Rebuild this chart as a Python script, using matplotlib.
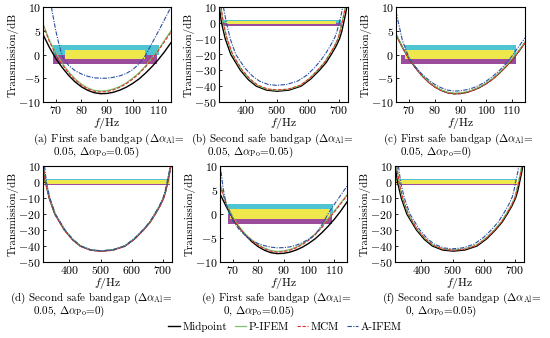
import matplotlib
matplotlib.use("Agg")
import matplotlib.pyplot as plt
from matplotlib.lines import Line2D

plt.rcParams['font.family'] = 'serif'
plt.rcParams['font.serif'] = ['cmr10', 'DejaVu Serif']
plt.rcParams['mathtext.fontset'] = 'cm'
plt.rcParams['axes.formatter.use_mathtext'] = True
plt.rcParams['font.size'] = 8

# ---- first safe bandgap (panels a, c, e) ----
f1 = [65, 67.5, 70, 72.5, 75, 77.5, 80, 82.5, 85, 87.5, 90, 92.5, 95, 97.5,
      100, 102.5, 105, 107.5, 110, 112.5, 115]
mid_1 = [4.2, 1.5, -0.85, -2.75, -4.4, -5.75, -6.8, -7.55, -8.05, -8.25, -8.2,
         -7.95, -7.5, -6.9, -6.1, -5.15, -3.95, -2.6, -1.1, 0.6, 2.5]

a_pifem = [6.5, 3.0, 0.3, -1.85, -3.65, -5.1, -6.25, -7.05, -7.55, -7.7, -7.6,
           -7.25, -6.75, -6.0, -5.0, -3.85, -2.45, -0.85, 1.0, 3.0, 5.0]
a_mcm = [6.2, 2.7, 0.0, -2.1, -3.9, -5.3, -6.45, -7.25, -7.75, -7.9, -7.8,
         -7.45, -6.9, -6.15, -5.2, -4.05, -2.65, -1.05, 0.75, 2.75, 4.7]
a_aifem_f = [67.5, 68.5, 70, 71, 72.5, 75, 77.5, 80, 82.5, 85, 87.5, 90, 92.5,
             95, 97.5, 100, 102.5, 105, 107.5, 110, 112.5, 115]
a_aifem = [13.0, 9.3, 5.0, 2.7, -0.4, -2.3, -3.4, -4.1, -4.6, -4.9, -5.0, -5.0,
           -4.8, -4.5, -4.0, -3.2, -2.0, -0.2, 2.3, 4.8, 7.4, 10.0]

c_pifem = [4.3, 1.6, -0.75, -2.65, -4.3, -5.65, -6.7, -7.45, -7.95, -8.15, -8.1,
           -7.85, -7.4, -6.8, -6.0, -5.05, -3.85, -2.5, -0.95, 0.75, 2.6]
c_mcm = [4.1, 1.45, -0.9, -2.8, -4.45, -5.8, -6.85, -7.6, -8.1, -8.3, -8.25,
         -8.0, -7.55, -6.95, -6.15, -5.2, -4.0, -2.65, -1.15, 0.55, 2.4]
c_aifem = [9.0, 2.9, -0.6, -2.6, -4.1, -5.3, -6.3, -7.0, -7.5, -7.7, -7.65,
           -7.4, -7.0, -6.4, -5.6, -4.6, -3.4, -2.0, -0.3, 1.6, 3.5]

e_pifem = [6.2, 2.2, -0.6, -2.6, -4.2, -5.4, -6.4, -7.1, -7.6, -7.8, -7.7,
           -7.4, -6.9, -6.2, -5.3, -4.1, -2.7, -1.0, 0.6, 2.3, 4.0]
e_mcm = [5.9, 2.0, -0.8, -2.8, -4.35, -5.55, -6.55, -7.25, -7.75, -7.95, -7.85,
         -7.55, -7.05, -6.35, -5.45, -4.3, -2.9, -1.2, 0.4, 2.1, 3.8]
e_aifem_f = [65, 66.25, 67.5, 70, 72.5, 75, 77.5, 80, 82.5, 85, 87.5, 90, 92.5,
             95, 97.5, 100, 102.5, 105, 107.5, 110, 112.5, 115]
e_aifem = [10.5, 5.3, 1.8, -1.4, -3.2, -4.5, -5.5, -6.15, -6.6, -6.9, -7.05,
           -7.0, -6.85, -6.5, -5.95, -5.2, -4.3, -2.4, 0.0, 2.0, 3.9, 5.8]

# ---- second safe bandgap (panels b, d, f) ----
mid_2_f = [316, 323, 335, 353, 384, 410, 435, 468, 502, 540, 579, 610, 638, 660,
           676, 691, 703, 710, 716, 722, 727]
mid_2 = [10, 0, -10, -20, -30, -36, -40, -42.5, -43.2, -42.5, -40, -35.5, -30,
         -25, -20, -15, -10, -5.5, 0, 5.5, 11]

b_pifem_f = [321, 328, 340, 358, 388, 414, 439, 471, 502, 538, 576, 606, 633,
             655, 671, 686, 698, 704, 710, 716, 721]
b_pifem = [10, 0, -10, -20, -29.8, -35.7, -39.6, -42, -42.6, -42, -39.6, -35.2,
           -29.8, -24.8, -19.8, -14.8, -9.8, -5.3, 0, 5, 10]
b_mcm_f = [322, 329, 341, 359, 389, 415, 440, 472, 503, 539, 577, 607, 634,
           656, 672, 687, 699, 705, 711, 717, 722]
b_mcm = [10, 0, -10, -20, -29.6, -35.5, -39.4, -41.8, -42.4, -41.8, -39.4, -35,
         -29.6, -24.6, -19.6, -14.6, -9.6, -5.1, 0, 5, 10]
b_aifem_f = [329, 339, 351, 369, 398, 422, 445, 473, 500, 533, 568, 598, 624,
             645, 661, 676, 688, 695, 702, 708, 713]
b_aifem = [10, 0, -10, -20, -28.5, -33.5, -36.8, -38.9, -39.5, -38.9, -36.8,
           -33, -28, -23, -18.5, -13.5, -9, -5, 0, 5, 10]

d_pifem_f = [317, 324, 336, 354, 385, 411, 436, 469, 502, 539, 578, 609, 637,
             659, 675, 690, 702, 709, 715, 721, 726]
d_pifem = [10, 0, -10, -20, -30, -35.9, -39.9, -42.4, -43.0, -42.4, -39.9,
           -35.4, -30, -25, -20, -15, -10, -5.5, 0, 5.5, 11]
d_mcm = [10, 0, -10.2, -20.2, -30.2, -36.2, -40.2, -42.7, -43.4, -42.7, -40.2,
         -35.7, -30.2, -25.2, -20.2, -15.2, -10.2, -5.7, -0.2, 5.3, 10.8]
d_aifem_f = [320, 326, 337, 355, 386, 412, 437, 469, 502, 538, 577, 608, 636,
             658, 674, 689, 701, 708, 714, 720, 725]
d_aifem = [10, 0, -10, -20, -30, -36, -40, -42.4, -43.0, -42.4, -40, -35.5, -30,
           -25, -20, -15, -10, -5.5, 0, 5.5, 11]

f_pifem_f = [320, 327, 339, 357, 387, 413, 438, 470, 500, 537, 576, 607, 635,
             657, 673, 688, 700, 706, 712, 718, 723]
f_pifem = [10, 0, -10, -20, -29.8, -35.6, -39.5, -41.9, -42.5, -41.9, -39.5,
           -35.1, -29.8, -24.8, -19.8, -14.8, -9.8, -5.3, 0, 5.3, 10.5]
f_mcm_f = [321, 328, 340, 358, 388, 414, 439, 471, 501, 538, 577, 608, 636,
           658, 674, 689, 701, 707, 713, 719, 724]
f_mcm = [10, -0.2, -10.2, -20.2, -30, -35.8, -39.7, -42.1, -42.7, -42.1, -39.7,
         -35.3, -30, -25, -20, -15, -10, -5.5, -0.2, 5.1, 10.3]
f_aifem_f = [326, 333, 345, 363, 393, 418, 442, 472, 498, 532, 569, 600, 627,
             649, 665, 680, 692, 698, 703, 709, 714]
f_aifem = [10, 0, -10, -20, -29.5, -35.2, -38.9, -41.2, -41.8, -41.2, -38.9,
           -34.6, -29.5, -24.5, -19.5, -14.5, -9.5, -5, 0, 5.3, 10.5]

# safe bandgap intervals (Hz): cyan, yellow, purple
bands = {
    'a': [(69.1, 110.4), (73.6, 105.0), (69.1, 109.7)],
    'b': [(325, 709), (339, 692), (325, 706)],
    'c': [(68.3, 111.5), (68.3, 110.6), (67.0, 111.5)],
    'd': [(318, 722), (318, 722), (318, 722)],
    'e': [(68.3, 109.3), (69.0, 108.3), (68.3, 109.0)],
    'f': [(318, 708), (318, 708), (318, 708)],
}
band_levels = [(0, 2), (-1, 1), (-2, 0)]
band_colors = ['#4fc4d2', '#eee84c', '#9b4c9d']

captions = {
    'a': (r'(a) First safe bandgap ($\Delta\alpha_{\rm Al}$=', r'0.05, $\Delta\alpha_{\rm Po}$=0.05)'),
    'b': (r'(b) Second safe bandgap ($\Delta\alpha_{\rm Al}$=', r'0.05, $\Delta\alpha_{\rm Po}$=0.05)'),
    'c': (r'(c) First safe bandgap ($\Delta\alpha_{\rm Al}$=', r'0.05, $\Delta\alpha_{\rm Po}$=0)'),
    'd': (r'(d) Second safe bandgap ($\Delta\alpha_{\rm Al}$=', r'0.05, $\Delta\alpha_{\rm Po}$=0)'),
    'e': (r'(e) First safe bandgap ($\Delta\alpha_{\rm Al}$=', r'0, $\Delta\alpha_{\rm Po}$=0.05)'),
    'f': (r'(f) Second safe bandgap ($\Delta\alpha_{\rm Al}$=', r'0, $\Delta\alpha_{\rm Po}$=0.05)'),
}

W, H = 550, 338
fig = plt.figure(figsize=(5.5, 3.38), dpi=100)

# axes boxes in pixels (left, top, right, bottom), caption x's, caption y's
layout = {
    'a': ((43, 7, 171, 102), (33, 53), (139, 153)),
    'b': ((219, 7, 348, 102), (191, 207), (139, 153)),
    'c': ((396, 7, 525, 102), (383, 400), (139, 153)),
    'd': ((43, 166, 172, 262), (10, 33), (298, 312)),
    'e': ((220, 166, 347, 262), (201, 223), (298, 312)),
    'f': ((395, 166, 524, 262), (382, 405), (298, 312)),
}

lines = {
    'a': [(f1, mid_1), (f1, a_pifem), (f1, a_mcm), (a_aifem_f, a_aifem)],
    'b': [(mid_2_f, mid_2), (b_pifem_f, b_pifem), (b_mcm_f, b_mcm), (b_aifem_f, b_aifem)],
    'c': [(f1, mid_1), (f1, c_pifem), (f1, c_mcm), (f1, c_aifem)],
    'd': [(mid_2_f, mid_2), (d_pifem_f, d_pifem), (mid_2_f, d_mcm), (d_aifem_f, d_aifem)],
    'e': [(f1, mid_1), (f1, e_pifem), (f1, e_mcm), (e_aifem_f, e_aifem)],
    'f': [(mid_2_f, mid_2), (f_pifem_f, f_pifem), (f_mcm_f, f_mcm), (f_aifem_f, f_aifem)],
}

styles = [
    dict(color='black', lw=1.0, ls='-'),
    dict(color='#7cc46e', lw=0.9, ls='-'),
    dict(color='#e0302a', lw=0.8, ls=(0, (3, 1.5))),
    dict(color='#2b4fa0', lw=0.8, ls=(0, (4, 1.2, 1, 1.2))),
]
names = ['Midpoint', 'P-IFEM', 'MCM', 'A-IFEM']

for key in 'abcdef':
    (l, t, r, b), (cx1, cx2), (cy1, cy2) = layout[key]
    ax = fig.add_axes([l / W, 1 - b / H, (r - l) / W, (b - t) / H])
    first = key in 'ace'

    # draw order: cyan, purple, yellow
    for i in (0, 2, 1):
        (x0, x1), (y0, y1) = bands[key][i], band_levels[i]
        ax.fill_between([x0, x1], y0, y1, color=band_colors[i], lw=0)

    for (fx, fy), st in zip(lines[key], styles):
        ax.plot(fx, fy, **st)

    if first:
        ax.set_xlim(65, 115)
        ax.set_ylim(-10, 10)
        ax.set_xticks([70, 80, 90, 100, 110])
        ax.set_yticks([-10, -5, 0, 5, 10])
    else:
        ax.set_xlim(315, 730)
        ax.set_ylim(-50, 10)
        ax.set_xticks([400, 500, 600, 700])
        ax.set_yticks([-50, -40, -30, -20, -10, 0, 10])

    ax.tick_params(direction='in', length=2.5, width=0.6, pad=1.5, labelsize=8.5)
    for sp in ax.spines.values():
        sp.set_linewidth(0.8)
    ax.set_xlabel(r'$f$/Hz', fontsize=8.5, labelpad=0)
    ax.set_ylabel('Transmission/dB', fontsize=8, labelpad=0)

    fig.text(cx1 / W, 1 - cy1 / H, captions[key][0], ha='left', va='center', fontsize=8)
    fig.text(cx2 / W, 1 - cy2 / H, captions[key][1], ha='left', va='center', fontsize=8)

handles = [Line2D([], [], **st) for st in styles]
fig.legend(handles, names, loc='center', bbox_to_anchor=(285 / W, 1 - 327 / H),
           ncol=4, frameon=False, fontsize=8, handlelength=1.0,
           handletextpad=0.25, columnspacing=0.7, borderpad=0)

fig.savefig('out.png', dpi=100)
